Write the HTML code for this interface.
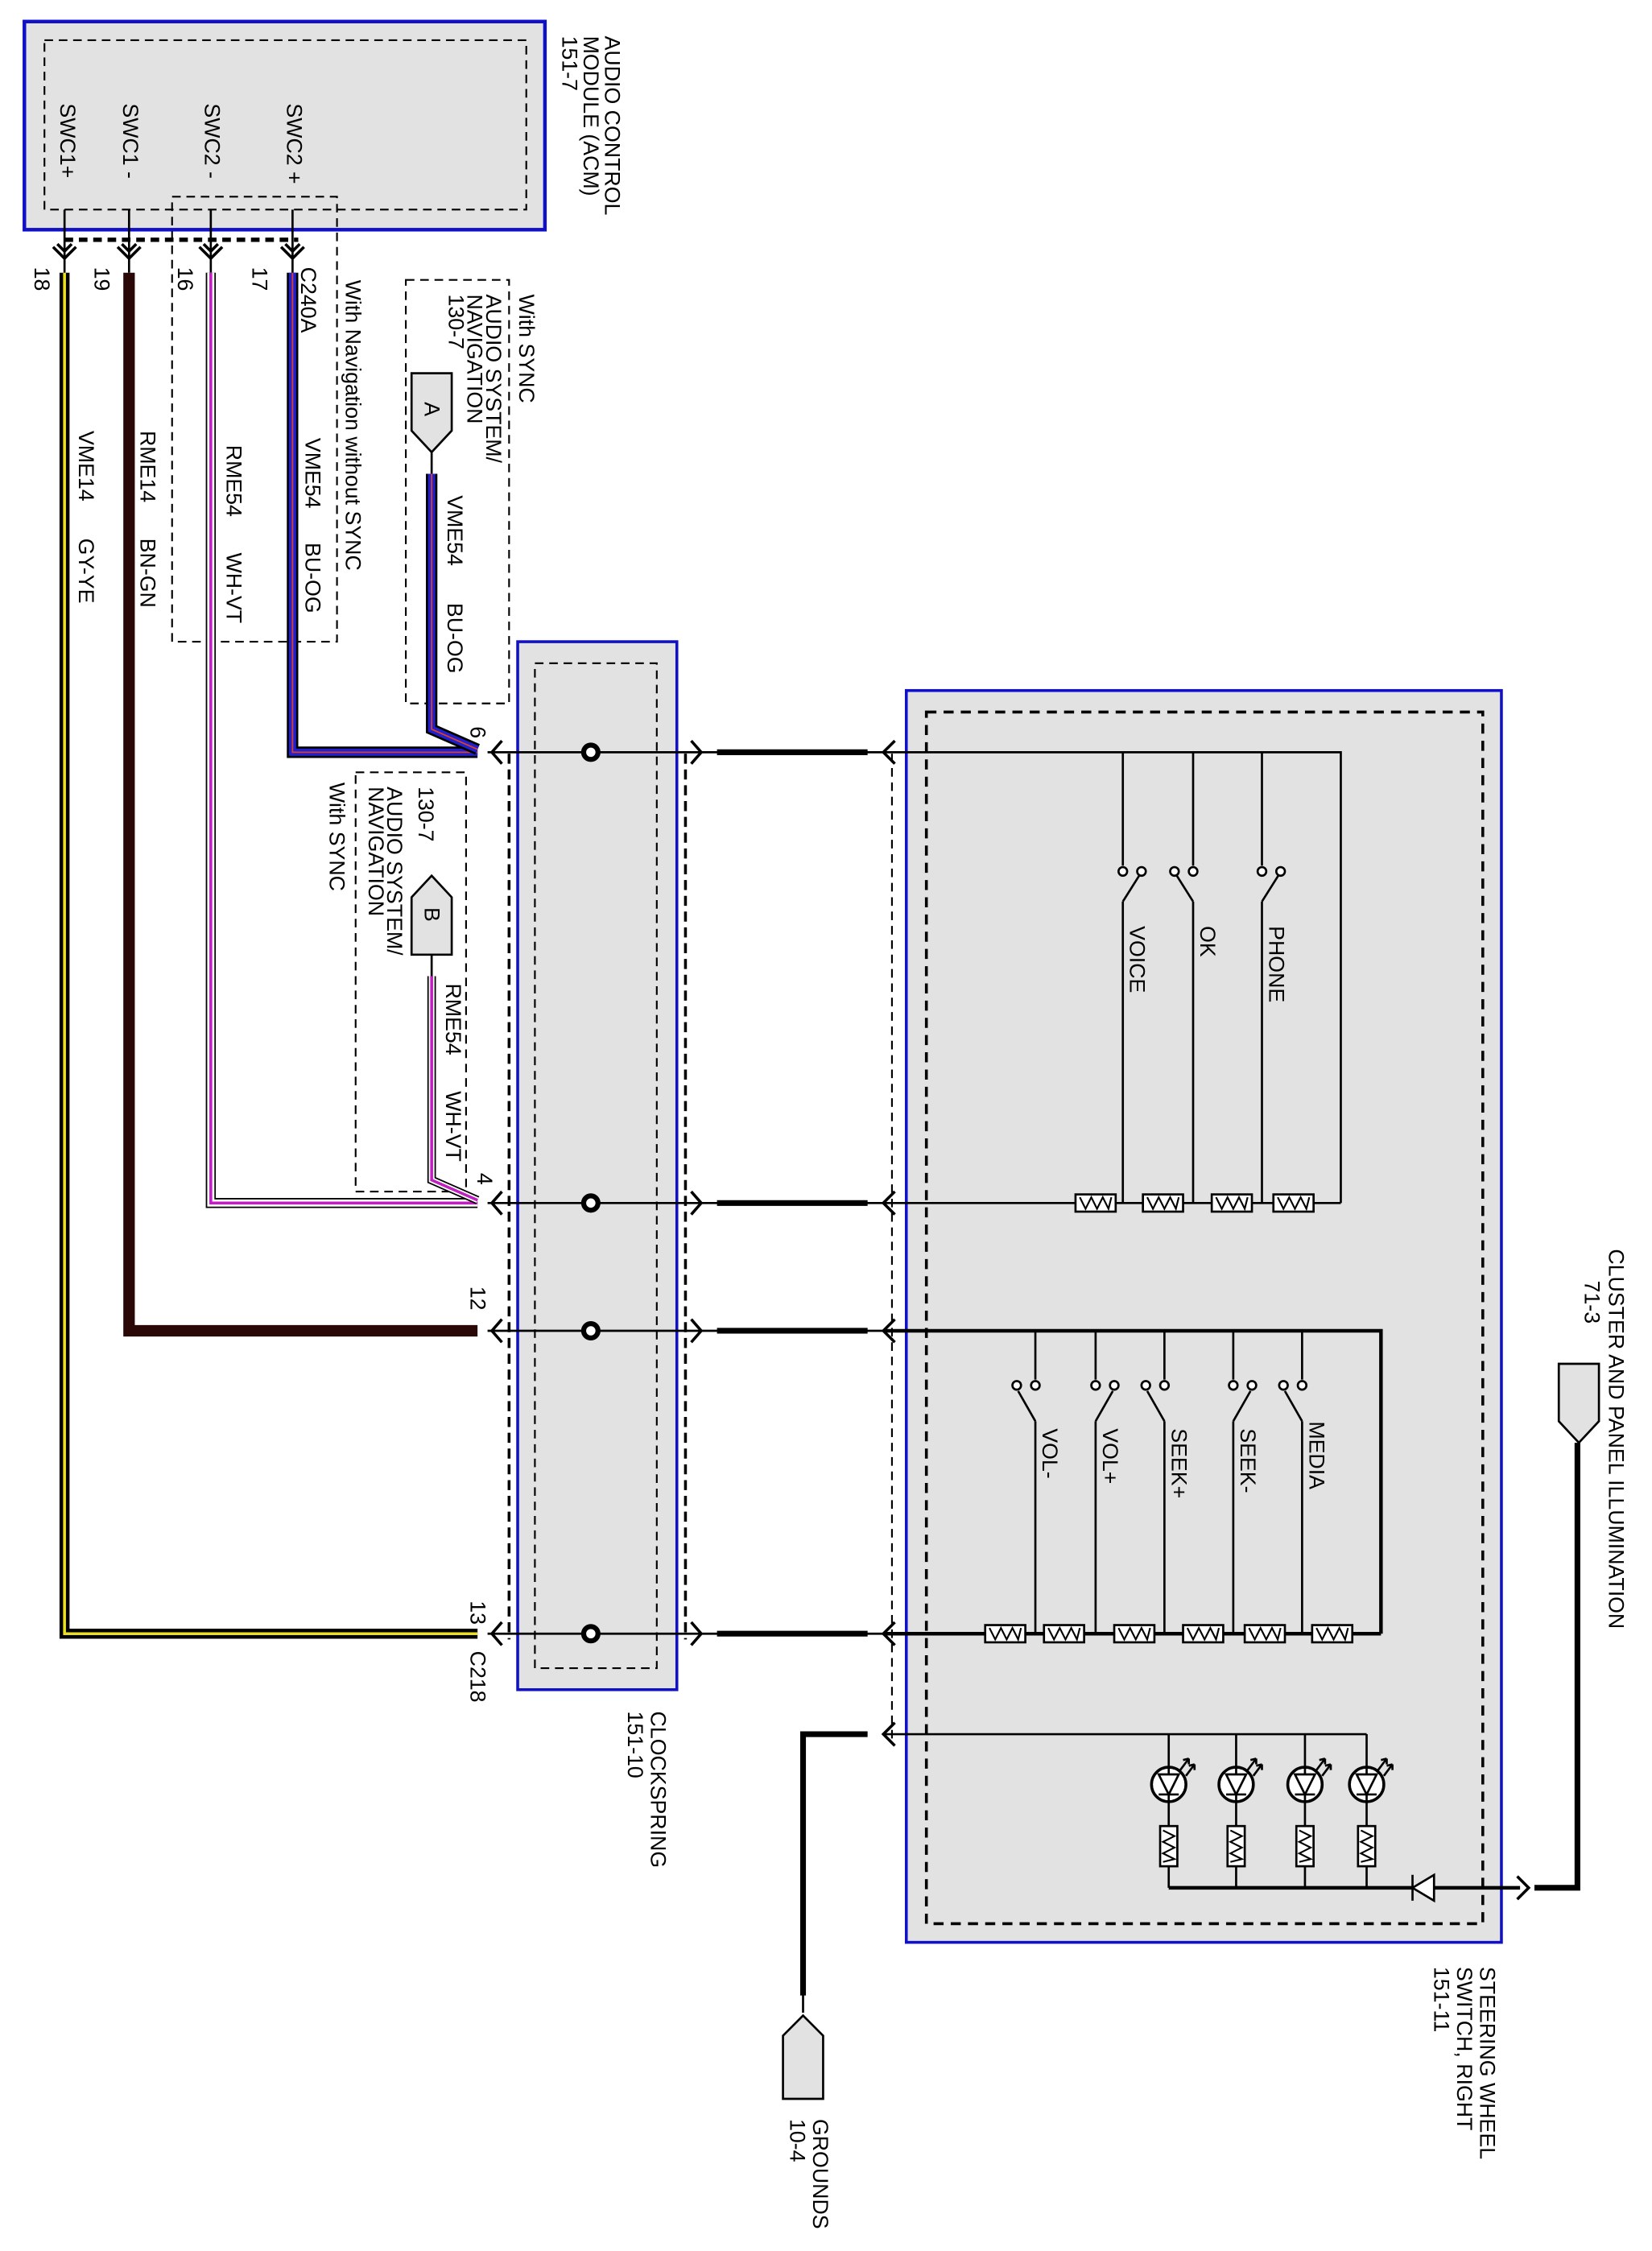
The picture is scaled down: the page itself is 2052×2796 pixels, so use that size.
<!DOCTYPE html>
<html><head><meta charset="utf-8"><style>
html,body{margin:0;padding:0;background:#fff}
svg{display:block}
text{font-family:"Liberation Sans",sans-serif;font-size:15px;fill:#000}
</style></head><body>
<svg width="2052" height="2796" viewBox="0 0 1152 1568" preserveAspectRatio="none" xmlns="http://www.w3.org/2000/svg">
<defs>
<g id="resH"><rect x="0" y="-6" width="28" height="12" fill="#fff" stroke="#000" stroke-width="1.5"/><path d="M3,-4 L7,4 L11,-4 L15,4 L19,-4 L23,4 L25,-4" fill="none" stroke="#000" stroke-width="1.2"/></g>
<g id="resV"><rect x="-6" y="0" width="12" height="28" fill="#fff" stroke="#000" stroke-width="1.5"/><path d="M-4,3 L4,7 L-4,11 L4,15 L-4,19 L4,23 L-4,25" fill="none" stroke="#000" stroke-width="1.2"/></g>
<g id="led"><circle r="12" fill="#fff" stroke="#000" stroke-width="2"/><path d="M-7,-7 L7,-7 L0,7 Z" fill="none" stroke="#000" stroke-width="1.5"/><path d="M-7,7 L7,7 M0,-12 L0,-7 M0,7 L0,12" stroke="#000" stroke-width="1.5"/><path d="M8,-10 L14,-18 M12,-6 L18,-14" stroke="#000" stroke-width="1.5"/><path d="M14,-18 l-4,1 M14,-18 l0,4 M18,-14 l-4,1 M18,-14 l0,4" stroke="#000" stroke-width="1.5"/></g>
</defs>

<!-- ACM -->
<rect x="17" y="15" width="363" height="145" fill="#e2e2e2" stroke="#1010c8" stroke-width="2.5"/>
<rect x="31" y="28" width="336" height="118" fill="none" stroke="#000" stroke-width="1.2" stroke-dasharray="6,4"/>
<g transform="translate(422,25) rotate(90)"><text>AUDIO CONTROL</text><text y="15">MODULE (ACM)</text><text y="30">151-7</text></g>
<g transform="translate(42,72) rotate(90)"><text>SWC1+</text></g>
<g transform="translate(86,72) rotate(90)"><text>SWC1 -</text></g>
<g transform="translate(143,72) rotate(90)"><text>SWC2 -</text></g>
<g transform="translate(200,72) rotate(90)"><text>SWC2 +</text></g>
<path d="M45,146 V190 M90,146 V190 M147,146 V190 M204,146 V190" stroke="#000" stroke-width="1.5"/>
<path d="M45,167 H208" stroke="#000" stroke-width="3" stroke-dasharray="6,4"/>
<g stroke="#000" stroke-width="2" fill="none">
<path d="M37,172 L45,180 L53,172 M40,170 L45,175 L50,170"/>
<path d="M82,172 L90,180 L98,172 M85,170 L90,175 L95,170"/>
<path d="M139,172 L147,180 L155,172 M142,170 L147,175 L152,170"/>
<path d="M196,172 L204,180 L212,172 M199,170 L204,175 L209,170"/>
</g>
<g transform="translate(24,186) rotate(90)"><text>18</text></g>
<g transform="translate(66,186) rotate(90)"><text>19</text></g>
<g transform="translate(124,186) rotate(90)"><text>16</text></g>
<g transform="translate(176,186) rotate(90)"><text>17</text></g>
<g transform="translate(210,186) rotate(90)"><text>C240A</text></g>

<!-- dashed box nav without sync -->
<rect x="120" y="137" width="115" height="310" fill="none" stroke="#000" stroke-width="1.2" stroke-dasharray="6,4"/>
<g transform="translate(241,195) rotate(90)"><text>With Navigation without SYNC</text></g>

<!-- wires -->
<path d="M45,190 V1138 H333" fill="none" stroke="#000" stroke-width="7"/>
<path d="M45,190 V1138 H333" fill="none" stroke="#e8e020" stroke-width="2"/>
<path d="M90,190 V927 H333" fill="none" stroke="#2a0808" stroke-width="8"/>
<path d="M147,190 V838 H333" fill="none" stroke="#000" stroke-width="7"/>
<path d="M147,190 V838 H333" fill="none" stroke="#fff" stroke-width="5"/>
<path d="M147,190 V838 H333" fill="none" stroke="#c020c0" stroke-width="2"/>
<path d="M204,190 V524 H333" fill="none" stroke="#000" stroke-width="8"/>
<path d="M204,190 V524 H333" fill="none" stroke="#2020d0" stroke-width="5"/>
<path d="M204,190 V524 H333" fill="none" stroke="#e04020" stroke-width="1"/>
<g transform="translate(55,300) rotate(90)"><text>VME14</text><text x="75">GY-YE</text></g>
<g transform="translate(98,300) rotate(90)"><text>RME14</text><text x="75">BN-GN</text></g>
<g transform="translate(158,310) rotate(90)"><text>RME54</text><text x="75">WH-VT</text></g>
<g transform="translate(213,305) rotate(90)"><text>VME54</text><text x="73">BU-OG</text></g>

<!-- With SYNC A -->
<rect x="283" y="195" width="72" height="295" fill="none" stroke="#000" stroke-width="1.2" stroke-dasharray="6,4"/>
<g transform="translate(362,205) rotate(90)"><text>With SYNC</text></g>
<g transform="translate(339,205) rotate(90)"><text>AUDIO SYSTEM/</text><text y="13">NAVIGATION</text><text y="26">130-7</text></g>
<path d="M287,260 H315 V300 L301,315 L287,300 Z" fill="#e2e2e2" stroke="#000" stroke-width="1.5"/>
<g transform="translate(296,280) rotate(90)"><text>A</text></g>
<path d="M301,315 V330" stroke="#000" stroke-width="1.5"/>
<path d="M301,330 V508 L333,522" fill="none" stroke="#000" stroke-width="8"/>
<path d="M301,330 V508 L333,522" fill="none" stroke="#2020d0" stroke-width="5"/>
<path d="M301,330 V508 L333,522" fill="none" stroke="#e04020" stroke-width="1"/>
<g transform="translate(312,345) rotate(90)"><text>VME54</text><text x="75">BU-OG</text></g>
<g transform="translate(328,506) rotate(90)"><text>6</text></g>

<!-- With SYNC B -->
<rect x="248" y="538" width="77" height="292" fill="none" stroke="#000" stroke-width="1.2" stroke-dasharray="6,4"/>
<g transform="translate(292,548) rotate(90)"><text>130-7</text></g>
<g transform="translate(270,548) rotate(90)"><text>AUDIO SYSTEM/</text><text y="13">NAVIGATION</text></g>
<g transform="translate(230,545) rotate(90)"><text>With SYNC</text></g>
<path d="M287,665 H315 V625 L301,610 L287,625 Z" fill="#e2e2e2" stroke="#000" stroke-width="1.5"/>
<g transform="translate(296,632) rotate(90)"><text>B</text></g>
<path d="M301,665 V680" stroke="#000" stroke-width="1.5"/>
<path d="M301,680 V822 L333,836" fill="none" stroke="#000" stroke-width="6"/>
<path d="M301,680 V822 L333,836" fill="none" stroke="#fff" stroke-width="4"/>
<path d="M301,680 V822 L333,836" fill="none" stroke="#c020c0" stroke-width="2"/>
<g transform="translate(311,685) rotate(90)"><text>RME54</text><text x="75">WH-VT</text></g>
<g transform="translate(333,817) rotate(90)"><text>4</text></g>
<g transform="translate(328,896) rotate(90)"><text>12</text></g>
<g transform="translate(328,1115) rotate(90)"><text>13</text></g>
<g transform="translate(328,1150) rotate(90)"><text>C218</text></g>

<!-- Clockspring -->
<rect x="361" y="447" width="111" height="730" fill="#e2e2e2" stroke="#1010c8" stroke-width="2"/>
<rect x="373" y="462" width="85" height="700" fill="none" stroke="#000" stroke-width="1.2" stroke-dasharray="6,4"/>
<path d="M355,525 V1142 M478,525 V1142" stroke="#000" stroke-width="2" stroke-dasharray="7,4"/>
<g transform="translate(454,1192) rotate(90)"><text>CLOCKSPRING</text><text y="16">151-10</text></g>

<!-- rows -->
<g stroke="#000" fill="none">
<path d="M340,524 H617 M340,838 H617 M340,927 H617 M340,1138 H617" stroke-width="1.5"/>
<path d="M500,524 H605 M500,838 H605 M500,927 H605 M500,1138 H605" stroke-width="4"/>
<path d="M350,516 L343,524 L350,532 M350,830 L343,838 L350,846 M350,919 L343,927 L350,935 M350,1130 L343,1138 L350,1146" stroke-width="2"/>
<path d="M482,516 L489,524 L482,532 M482,830 L489,838 L482,846 M482,919 L489,927 L482,935 M482,1130 L489,1138 L482,1146" stroke-width="2"/>
<path d="M624,516 L616,524 L624,532 M624,830 L616,838 L624,846 M624,919 L616,927 L624,935 M624,1130 L616,1138 L624,1146 M624,1200 L616,1208 L624,1216" stroke-width="2"/>
<circle cx="412" cy="524" r="5" stroke-width="3.5" fill="#fff"/>
<circle cx="412" cy="838" r="5" stroke-width="3.5" fill="#fff"/>
<circle cx="412" cy="927" r="5" stroke-width="3.5" fill="#fff"/>
<circle cx="412" cy="1138" r="5" stroke-width="3.5" fill="#fff"/>
</g>
<path d="M622,525 V1212" stroke="#000" stroke-width="1.2" stroke-dasharray="6,4"/>

<!-- Steering wheel switch -->
<rect x="632" y="481" width="415" height="872" fill="#e2e2e2" stroke="#1010c8" stroke-width="2"/>
<rect x="646" y="496" width="388" height="844" fill="none" stroke="#000" stroke-width="2" stroke-dasharray="7,5"/>
<g transform="translate(1032,1370) rotate(90)"><text>STEERING WHEEL</text><text y="16">SWITCH, RIGHT</text><text y="32">151-11</text></g>

<g stroke="#000" fill="none" stroke-width="1.5">
<path d="M617,524 H935 V838 M617,838 H935"/>
<path d="M783,524 V603 M783,628 V838 M783,628 L795,609"/>
<path d="M832,524 V603 M832,628 V838 M832,628 L820,609"/>
<path d="M880,524 V603 M880,628 V838 M880,628 L892,609"/>
<circle cx="783" cy="607" r="3" fill="#fff"/><circle cx="796" cy="607" r="3" fill="#fff"/>
<circle cx="832" cy="607" r="3" fill="#fff"/><circle cx="819" cy="607" r="3" fill="#fff"/>
<circle cx="880" cy="607" r="3" fill="#fff"/><circle cx="893" cy="607" r="3" fill="#fff"/>
<path d="M617,927 H963 V1138 M617,1138 H963" stroke-width="2.5"/>
<path d="M722,927 V961 M722,990 V1138 M722,990 L710,969"/>
<path d="M764,927 V961 M764,990 V1138 M764,990 L776,969"/>
<path d="M812,927 V961 M812,990 V1138 M812,990 L800,969"/>
<path d="M860,927 V961 M860,990 V1138 M860,990 L872,969"/>
<path d="M908,927 V961 M908,990 V1138 M908,990 L896,969"/>
<circle cx="722" cy="965" r="3" fill="#fff"/><circle cx="709" cy="965" r="3" fill="#fff"/>
<circle cx="764" cy="965" r="3" fill="#fff"/><circle cx="777" cy="965" r="3" fill="#fff"/>
<circle cx="812" cy="965" r="3" fill="#fff"/><circle cx="799" cy="965" r="3" fill="#fff"/>
<circle cx="860" cy="965" r="3" fill="#fff"/><circle cx="873" cy="965" r="3" fill="#fff"/>
<circle cx="908" cy="965" r="3" fill="#fff"/><circle cx="895" cy="965" r="3" fill="#fff"/>
</g>
<use href="#resH" x="750" y="838"/><use href="#resH" x="797" y="838"/><use href="#resH" x="845" y="838"/><use href="#resH" x="888" y="838"/>
<use href="#resH" x="687" y="1138"/><use href="#resH" x="728" y="1138"/><use href="#resH" x="777" y="1138"/><use href="#resH" x="825" y="1138"/><use href="#resH" x="868" y="1138"/><use href="#resH" x="915" y="1138"/>
<g transform="translate(788,645) rotate(90)"><text>VOICE</text></g>
<g transform="translate(837,645) rotate(90)"><text>OK</text></g>
<g transform="translate(885,645) rotate(90)"><text>PHONE</text></g>
<g transform="translate(727,995) rotate(90)"><text>VOL-</text></g>
<g transform="translate(769,995) rotate(90)"><text>VOL+</text></g>
<g transform="translate(817,995) rotate(90)"><text>SEEK+</text></g>
<g transform="translate(865,995) rotate(90)"><text>SEEK-</text></g>
<g transform="translate(913,990) rotate(90)"><text>MEDIA</text></g>

<!-- illumination -->
<g stroke="#000" fill="none" stroke-width="1.5">
<path d="M617,1208 H953"/>
<path d="M815,1208 V1231 M815,1255 V1272 M815,1300 V1315"/>
<path d="M862,1208 V1231 M862,1255 V1272 M862,1300 V1315"/>
<path d="M910,1208 V1231 M910,1255 V1272 M910,1300 V1315"/>
<path d="M953,1208 V1231 M953,1255 V1272 M953,1300 V1315"/>
<path d="M815,1315 H1060" stroke-width="2.5"/>
<path d="M985,1306 V1324 M985,1315 L1000,1306 V1324 Z" fill="#fff"/>
<path d="M1058,1307 L1066,1315 L1058,1323" stroke-width="2"/>
<path d="M1070,1315 H1100 V1005" stroke-width="4"/>
<path d="M560,1390 V1208 H605" stroke-width="4"/>
</g>
<use href="#led" x="815" y="1243"/><use href="#led" x="862" y="1243"/><use href="#led" x="910" y="1243"/><use href="#led" x="953" y="1243"/>
<use href="#resV" x="815" y="1272"/><use href="#resV" x="862" y="1272"/><use href="#resV" x="910" y="1272"/><use href="#resV" x="953" y="1272"/>
<path d="M1087,950 H1115 V990 L1101,1005 L1087,990 Z" fill="#e2e2e2" stroke="#000" stroke-width="1.5"/>
<g transform="translate(1122,870) rotate(90)"><text>CLUSTER AND PANEL ILLUMINATION</text><text y="17" x="22">71-3</text></g>
<path d="M560,1388 V1402 M546,1418 L560,1404 L574,1418 V1462 H546 Z" fill="#e2e2e2" stroke="#000" stroke-width="1.5"/>
<g transform="translate(567,1476) rotate(90)"><text>GROUNDS</text><text y="16">10-4</text></g>
</svg>
</body></html>
